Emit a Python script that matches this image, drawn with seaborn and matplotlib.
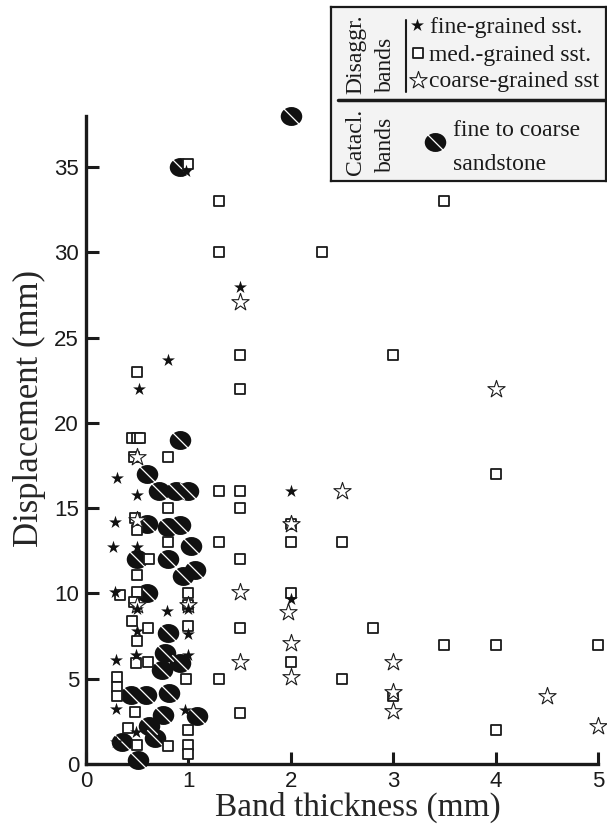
import pandas as pd
import seaborn as sns
import matplotlib.pyplot as plt
from matplotlib.path import Path
from matplotlib.transforms import Affine2D

# fine-grained sandstone, disaggregation bands (filled stars)
fine_x = [0.98, 1.5, 0.8, 0.52, 0.3, 0.5, 2.0, 0.28, 0.26, 0.5, 0.28, 0.5, 0.79, 1.0,
          0.5, 1.0, 2.0, 0.29, 0.49, 1.0, 0.29, 0.97, 0.49, 0.29]
fine_y = [34.8, 28.0, 23.7, 22.0, 16.8, 15.8, 16.0, 14.2, 12.7, 12.7, 10.1, 9.1, 9.0, 9.1,
          7.8, 7.6, 9.7, 6.1, 6.4, 6.4, 3.25, 3.15, 1.9, 1.3]

# medium-grained sandstone, disaggregation bands (open squares)
med_x = [1.0, 1.3, 3.5, 1.3, 2.3, 0.5, 1.5, 3.0, 1.5, 0.45, 0.5, 0.53, 0.47, 0.8, 4.0,
         1.3, 1.5, 1.5, 0.8, 2.0, 0.48, 0.5, 0.8, 1.3, 2.0, 2.5, 0.62, 1.5, 0.5, 0.33,
         0.5, 1.0, 2.0, 0.47, 1.0, 0.45, 0.61, 1.0, 1.5, 2.8, 0.5, 3.5, 4.0, 5.0, 0.49,
         0.61, 2.0, 0.3, 0.98, 1.3, 2.5, 0.3, 0.3, 3.0, 0.48, 1.5, 0.41, 1.0, 4.0, 0.5,
         0.8, 1.0, 1.0]
med_y = [35.2, 33.0, 33.0, 30.0, 30.0, 23.0, 24.0, 24.0, 22.0, 19.1, 19.1, 19.1, 18.0, 18.0, 17.0,
         16.0, 16.0, 15.0, 15.0, 14.1, 14.4, 13.7, 13.0, 13.0, 13.0, 13.0, 12.0, 12.0, 11.1, 9.9,
         10.1, 10.0, 10.0, 9.5, 9.3, 8.4, 8.0, 8.1, 8.0, 8.0, 7.2, 7.0, 7.0, 7.0, 5.9,
         6.0, 6.0, 5.1, 5.0, 5.0, 5.0, 4.5, 4.0, 4.0, 3.05, 3.0, 2.1, 2.0, 2.0, 1.1,
         1.05, 1.1, 0.6]

# coarse-grained sandstone, disaggregation bands (open stars)
coarse_x = [1.5, 4.0, 0.5, 2.5, 2.0, 1.5, 1.97, 2.0, 1.5, 3.0, 2.0, 3.0, 4.5, 3.0, 5.0,
            0.5, 1.0, 0.5]
coarse_y = [27.1, 22.0, 18.0, 16.0, 14.1, 10.1, 8.9, 7.1, 6.0, 6.0, 5.1, 4.2, 4.0, 3.1, 2.2,
            9.3, 9.3, 14.3]

# cataclastic bands, fine to coarse sandstone
cata_x = [2.0, 0.92, 0.92, 0.6, 0.71, 0.88, 1.0, 0.6, 0.8, 0.92, 1.03, 0.5, 0.8, 0.95,
          1.06, 0.6, 0.8, 0.77, 0.74, 0.92, 0.44, 0.59, 0.81, 0.75, 1.08, 0.62, 0.35, 0.67, 0.51]
cata_y = [38.0, 35.0, 19.0, 17.0, 16.0, 16.0, 16.0, 14.1, 13.9, 14.0, 12.8, 12.0, 12.0, 11.0,
          11.4, 10.0, 7.7, 6.5, 5.5, 5.9, 4.05, 4.05, 4.15, 2.85, 2.8, 2.2, 1.3, 1.5, 0.25]

df = pd.concat([
    pd.DataFrame({"thick": cata_x, "disp": cata_y, "kind": "cata"}),
    pd.DataFrame({"thick": med_x, "disp": med_y, "kind": "med"}),
    pd.DataFrame({"thick": coarse_x, "disp": coarse_y, "kind": "coarse"}),
    pd.DataFrame({"thick": fine_x, "disp": fine_y, "kind": "fine"}),
], ignore_index=True)

sns.set_style("ticks")
plt.rcParams["font.family"] = ["Liberation Sans", "DejaVu Sans"]
serif = ["Liberation Serif", "DejaVu Serif"]

# split-bean marker for cataclastic bands
bean = Path.unit_circle().transformed(Affine2D().scale(1.0, 0.88))
cut = Path([(-0.5, 0.5), (0.5, -0.5)])
ink = "#1a1a1a"

fig = plt.figure(figsize=(6.07, 8.27), dpi=100)
ax = fig.add_axes([86 / 607, 1 - 764 / 827, 512 / 607, 648 / 827])

cata = df[df.kind == "cata"]
sns.scatterplot(x="thick", y="disp", data=cata, ax=ax, marker=bean, s=240,
                color="#111111", edgecolor="#111111", linewidth=0, clip_on=False, zorder=3)
sns.scatterplot(x="thick", y="disp", data=cata, ax=ax, marker=cut, s=140,
                color="white", edgecolor="white", linewidth=0.9, clip_on=False, zorder=3)
sns.scatterplot(x="thick", y="disp", data=df[df.kind == "med"], ax=ax, marker="s", s=46,
                color="white", edgecolor=ink, linewidth=1.3, clip_on=False, zorder=4)
sns.scatterplot(x="thick", y="disp", data=df[df.kind == "coarse"], ax=ax, marker="*", s=170,
                color="white", edgecolor=ink, linewidth=0.8, clip_on=False, zorder=5)
sns.scatterplot(x="thick", y="disp", data=df[df.kind == "fine"], ax=ax, marker="*", s=95,
                color="#111111", edgecolor="#111111", linewidth=0, clip_on=False, zorder=6)

ax.set_xlim(0, 5)
ax.set_ylim(0, 38)
ax.set_xticks([0, 1, 2, 3, 4, 5])
ax.set_yticks([0, 5, 10, 15, 20, 25, 30, 35])
ax.tick_params(direction="in", length=9, width=2.2, labelsize=16, pad=5, colors=ink)
for s in ["left", "bottom"]:
    ax.spines[s].set_linewidth(2.4)
    ax.spines[s].set_color(ink)
sns.despine(ax=ax)
ax.set_xlabel("Band thickness (mm)", fontsize=24, family=serif)
ax.set_ylabel("Displacement (mm)", fontsize=25, family=serif)
ax.xaxis.set_label_coords(0.531, -0.043)
ax.yaxis.set_label_coords(-0.078, 0.549)

# hand-built legend box
lax = fig.add_axes([331 / 607, 1 - 181 / 827, 275 / 607, 174 / 827])
lax.set_xlim(331, 606)
lax.set_ylim(181, 7)
lax.set_facecolor("#f3f3f3")
lax.set_xticks([])
lax.set_yticks([])
for s in lax.spines.values():
    s.set_linewidth(1.6)
    s.set_color(ink)

lt = dict(fontsize=17, family=serif, color=ink)
lax.text(356, 54, "Disaggr.", rotation=90, ha="center", va="center", **lt)
lax.text(385, 64, "bands", rotation=90, ha="center", va="center", **lt)
lax.text(356, 142, "Catacl.", rotation=90, ha="center", va="center", **lt)
lax.text(385, 144, "bands", rotation=90, ha="center", va="center", **lt)
lax.plot([406, 406], [20, 92], color=ink, lw=1.5)
lax.plot([338, 606], [100, 100], color=ink, lw=2.5)

lax.scatter([417], [25], marker="*", s=95, color="#111111", linewidth=0)
lax.scatter([418], [53], marker="s", s=46, facecolor="white", edgecolor=ink, linewidth=1.3)
lax.scatter([418], [80], marker="*", s=170, facecolor="white", edgecolor=ink, linewidth=0.8)
lax.scatter([435], [142], marker=bean, s=240, color="#111111", linewidth=0)
lax.scatter([435], [142], marker=cut, s=140, color="white", linewidth=0.9)
lax.text(430, 27, "fine-grained sst.", ha="left", va="center", **lt)
lax.text(429, 55, "med.-grained sst.", ha="left", va="center", **lt)
lax.text(429, 82, "coarse-grained sst", ha="left", va="center", **lt)
lax.text(453, 130, "fine to coarse", ha="left", va="center", **lt)
lax.text(453, 164, "sandstone", ha="left", va="center", **lt)

fig.savefig("out.png", dpi=100)
plt.close(fig)
